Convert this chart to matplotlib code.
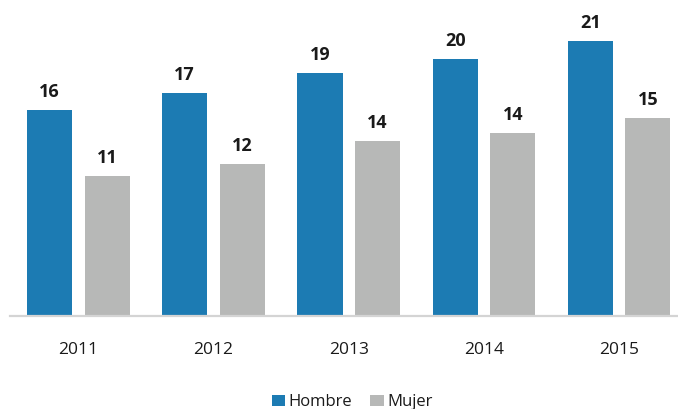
import matplotlib
matplotlib.use("Agg")
import matplotlib.pyplot as plt
import numpy as np

years = ["2011", "2012", "2013", "2014", "2015"]
hombre = [15.97, 17.3, 18.84, 19.92, 21.34]
mujer = [10.85, 11.8, 13.59, 14.19, 15.37]
hombre_labels = ["16", "17", "19", "20", "21"]
mujer_labels = ["11", "12", "14", "14", "15"]

blue = "#1C7BB3"
gray = "#B7B8B7"

plt.rcParams['font.family'] = ['Open Sans', 'DejaVu Sans']

W, H = 678, 409
fig = plt.figure(figsize=(W / 100, H / 100), dpi=100)
ax_left, ax_right = 10, 678
ax_bottom, ax_top = 316, 0
ax = fig.add_axes([ax_left / W, (H - ax_bottom) / H, (ax_right - ax_left) / W, (ax_bottom - ax_top) / H])

x = np.arange(len(years))
w = 0.333
b1 = ax.bar(x - 0.212, hombre, w, color=blue, label="Hombre")
b2 = ax.bar(x + 0.214, mujer, w, color=gray, label="Mujer")

for bars, labs in ((b1, hombre_labels), (b2, mujer_labels)):
    for r, t in zip(bars, labs):
        ax.annotate(t, (r.get_x() + r.get_width() / 2, r.get_height()),
                    xytext=(0, 9.4), textcoords="offset points",
                    ha="center", va="baseline", fontsize=13, fontweight="bold",
                    color="#1a1a1a")

ax.set_xlim(-0.505, 4.436)
ax.set_ylim(0, 316 / 12.9)
for s in ("top", "right", "left"):
    ax.spines[s].set_visible(False)
ax.spines["bottom"].set_color("#d4d4d4")
ax.spines["bottom"].set_linewidth(1.6)
ax.set_yticks([])
ax.set_xticks(x)
ax.set_xticklabels(years, fontsize=12.5, color="#1a1a1a")
ax.tick_params(axis="x", length=0, pad=19)

fig.legend(handles=[b1, b2], labels=["Hombre", "Mujer"], loc="center",
           bbox_to_anchor=(352 / W, 1 - 402.3 / H), ncol=2, frameon=False,
           fontsize=12, handlelength=0.8, handleheight=0.65, handletextpad=0.2,
           columnspacing=1.1, borderpad=0, borderaxespad=0, labelcolor="#1a1a1a")

fig.savefig("out.png", dpi=100)
